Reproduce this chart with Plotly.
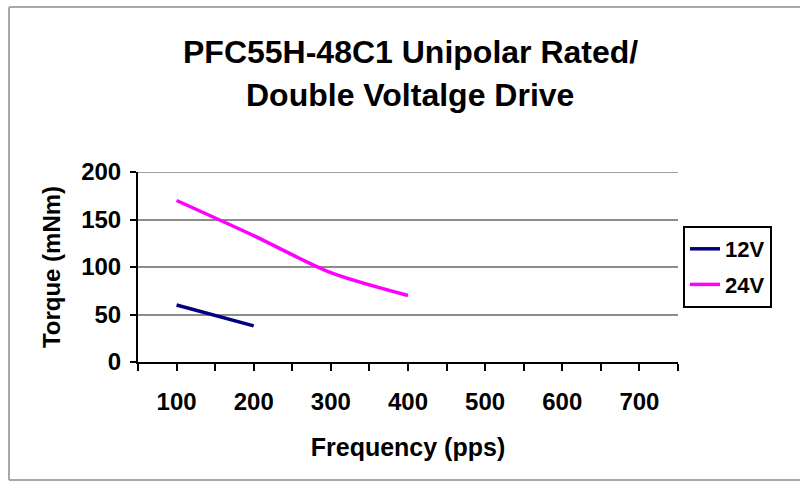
import plotly.graph_objects as go

# ---- data ----
freq_12v = [100, 200]
torque_12v = [60, 38]
freq_24v = [100, 200, 300, 400]
torque_24v = [170, 133, 94, 70]
x_tick_vals = [100, 200, 300, 400, 500, 600, 700]
x_tick_text = ["100", "200", "300", "400", "500", "600", "700"]
y_tick_vals = [0, 50, 100, 150, 200]

FONT = "Arial, Liberation Sans, sans-serif"

# plot area in pixels
L, R, T, B = 138, 678, 172, 362
W, H = 800, 483

def px_x(p):
    return (p - L) / (R - L)

def px_y(p):
    return (B - p) / (B - T)

fig = go.Figure()
fig.add_trace(go.Scatter(
    x=freq_12v, y=torque_12v, name="12V", mode="lines",
    line=dict(color="#000080", width=3.5, shape="spline", smoothing=0.8),
    legendgroup="a",
))
fig.add_trace(go.Scatter(
    x=freq_24v, y=torque_24v, name="24V", mode="lines",
    line=dict(color="#FF00FF", width=3.5, shape="spline", smoothing=0.8),
    legendgroup="b",
))

border = dict(color="#a8a8a8", width=2)

fig.update_layout(
    width=W, height=H,
    margin=dict(l=L, r=W - R, t=T, b=H - B, pad=0),
    paper_bgcolor="white", plot_bgcolor="white",
    font=dict(family=FONT, color="black", weight="bold"),
    showlegend=True,
    legend=dict(
        x=px_x(683), y=px_y(226), xanchor="left", yanchor="top",
        bordercolor="black", borderwidth=2, bgcolor="white",
        font=dict(size=22, family=FONT, weight="bold"),
        tracegroupgap=4, itemwidth=30,
    ),
    xaxis=dict(
        range=[50, 750], showgrid=False, zeroline=False,
        showline=True, linecolor="black", linewidth=2,
        tickvals=x_tick_vals, ticktext=x_tick_text,
        ticks="outside", ticklen=7, tickwidth=2, tickcolor="black",
        ticklabelstandoff=10,
        tickfont=dict(size=24, family=FONT, weight="bold"),
        minor=dict(dtick=50, tick0=50, ticks="outside", ticklen=7,
                   tickwidth=2, tickcolor="black", showgrid=False),
        title=dict(text="Frequency (pps)", standoff=25,
                   font=dict(size=25, family=FONT, weight="bold")),
    ),
    yaxis=dict(
        range=[0, 200], tickvals=y_tick_vals,
        showgrid=True, gridcolor="#8c8c8c", gridwidth=2, zeroline=False,
        showline=True, linecolor="black", linewidth=2,
        ticks="outside", ticklen=6, tickwidth=2, tickcolor="black",
        ticklabelstandoff=4,
        tickfont=dict(size=24, family=FONT, weight="bold"),
        title=dict(text="Torque (mNm)", standoff=14,
                   font=dict(size=24, family=FONT, weight="bold")),
    ),
    annotations=[
        dict(text="PFC55H-48C1 Unipolar Rated/", xref="paper", yref="paper",
             x=px_x(410), y=px_y(52), xanchor="center", yanchor="middle",
             showarrow=False, font=dict(size=32, family=FONT, weight="bold")),
        dict(text="Double Voltalge Drive", xref="paper", yref="paper",
             x=px_x(410), y=px_y(95), xanchor="center", yanchor="middle",
             showarrow=False, font=dict(size=32, family=FONT, weight="bold")),
    ],
    shapes=[
        dict(type="line", xref="paper", yref="paper",
             x0=px_x(9), x1=px_x(9), y0=px_y(480), y1=px_y(7),
             line=border, layer="below"),
        dict(type="line", xref="paper", yref="paper",
             x0=px_x(9), x1=px_x(840), y0=px_y(7), y1=px_y(7),
             line=border, layer="below"),
        dict(type="line", xref="paper", yref="paper",
             x0=px_x(9), x1=px_x(840), y0=px_y(480), y1=px_y(480),
             line=border, layer="below"),
        dict(type="line", xref="paper", yref="y",
             x0=0, x1=1, y0=y_tick_vals[-1], y1=y_tick_vals[-1],
             line=dict(color="#a0a0a0", width=2), layer="below"),
    ],
)

fig.write_html("out.html", config={"displayModeBar": False},
               post_script="document.body.style.margin='0';")
